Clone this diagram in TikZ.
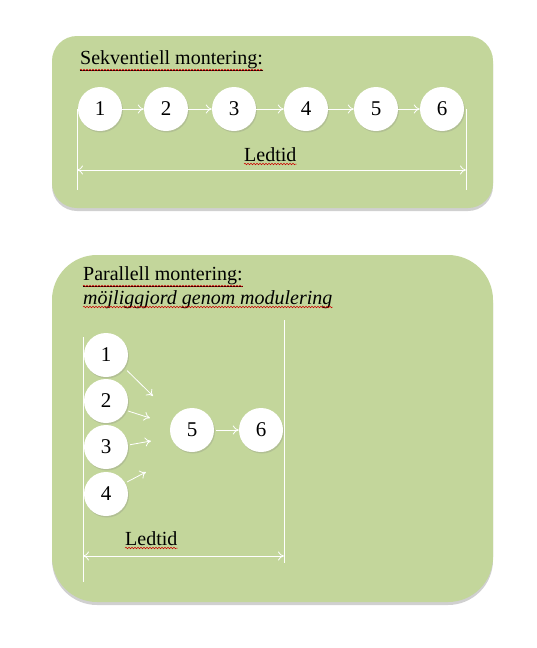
\documentclass[tikz,border=0pt]{standalone}
\usepackage{fontspec}
\setmainfont{Liberation Serif}
\usetikzlibrary{shadows,arrows.meta,decorations.pathmorphing}
\definecolor{boxgreen}{HTML}{C3D69B}
\tikzset{
  panel/.style={fill=boxgreen, draw=none, drop shadow={shadow xshift=0pt, shadow yshift=-3pt, opacity=0.3, fill=black!60}},
  step circle/.style={circle, fill=white, draw=none, minimum size=44pt, inner sep=0pt, font=\fontsize{21}{24}\selectfont, drop shadow={shadow xshift=1pt, shadow yshift=-1.5pt, opacity=0.25}},
  flow/.style={white, line width=0.8pt, -{To[length=6pt,width=9pt]}},
  span/.style={white, line width=0.8pt, {To[length=6pt,width=9pt]}-{To[length=6pt,width=9pt]}},
  guide/.style={white, line width=0.8pt},
  label/.style={font=\fontsize{20}{23}\selectfont, inner sep=0pt, anchor=base west},
  spell/.style={red!80!black, line width=0.5pt, decorate, decoration={snake, amplitude=0.8pt, segment length=3pt}}
}
\begin{document}
\begin{tikzpicture}[x=1pt,y=-1pt]
\useasboundingbox (0,0) rectangle (537,648);
\fill[white] (0,0) rectangle (537,648);
% panels
\path[panel, rounded corners=25pt] (52,36) rectangle (493,208);
\path[panel, rounded corners=45pt] (52,255) rectangle (493,602);

% ---- sequential
\node[label] (t1) at (80,64) {\underline{Sekventiell montering:}};
\draw[spell] ([yshift=-6pt]t1.base west) -- ([yshift=-6pt]t1.base east);
\foreach \i/\x in {1/100,2/166,3/234,4/306,5/376,6/442}
  \node[step circle] (s\i) at (\x,109) {\i};
\foreach \a/\b in {1/2,2/3,3/4,4/5,5/6}
  \draw[flow] (s\a) -- (s\b);
\coordinate (sl0) at (77,109);
\coordinate (sl1) at (77,190);
\coordinate (sr0) at (466,109);
\coordinate (sr1) at (466,190);
\draw[guide] (sl0) -- (sl1);
\draw[guide] (sr0) -- (sr1);
\coordinate (sa) at (77,170);
\coordinate (sb) at (466,170);
\draw[span] (sa) -- (sb);
\node[label] (l1) at (244,161) {Ledtid};
\draw[spell] ([yshift=-3pt]l1.base west) -- ([yshift=-3pt]l1.base east);

% ---- parallel
\node[label] (t2) at (83,280) {\underline{Parallell montering:}};
\draw[spell] ([yshift=-6pt]t2.base west) -- ([yshift=-6pt]t2.base east);
\node[label] (t3) at (83,304) {\itshape möjliggjord genom modulering};
\draw[spell] ([yshift=-3pt]t3.base west) -- ([yshift=-3pt]t3.base east);

\node[step circle] (p1) at (106,355) {1};
\node[step circle] (p2) at (106,401) {2};
\node[step circle] (p3) at (106,447) {3};
\node[step circle] (p4) at (106,494) {4};
\node[step circle] (p5) at (192,430) {5};
\node[step circle] (p6) at (261,430) {6};
\coordinate (e1) at (153,396);
\coordinate (e2) at (150,418);
\coordinate (e3) at (151,441);
\coordinate (e4) at (146,472);
\draw[flow, shorten <=4pt] (p1.-35) -- (e1);
\draw[flow, shorten <=2pt] (p2.-25) -- (e2);
\draw[flow, shorten <=2pt] (p3.5) -- (e3);
\draw[flow, shorten <=2pt] (p4.30) -- (e4);
\draw[flow, shorten <=2pt] (p5) -- (p6);

\coordinate (pl0) at (83,337);
\coordinate (pl1) at (83,582);
\coordinate (pr0) at (284,320);
\coordinate (pr1) at (284,563);
\draw[guide] (pl0) -- (pl1);
\draw[guide] (pr0) -- (pr1);
\coordinate (pa) at (83,556);
\coordinate (pb) at (284,556);
\draw[span] (pa) -- (pb);
\node[label] (l2) at (125,545) {Ledtid};
\draw[spell] ([yshift=-3pt]l2.base west) -- ([yshift=-3pt]l2.base east);
\end{tikzpicture}
\end{document}
